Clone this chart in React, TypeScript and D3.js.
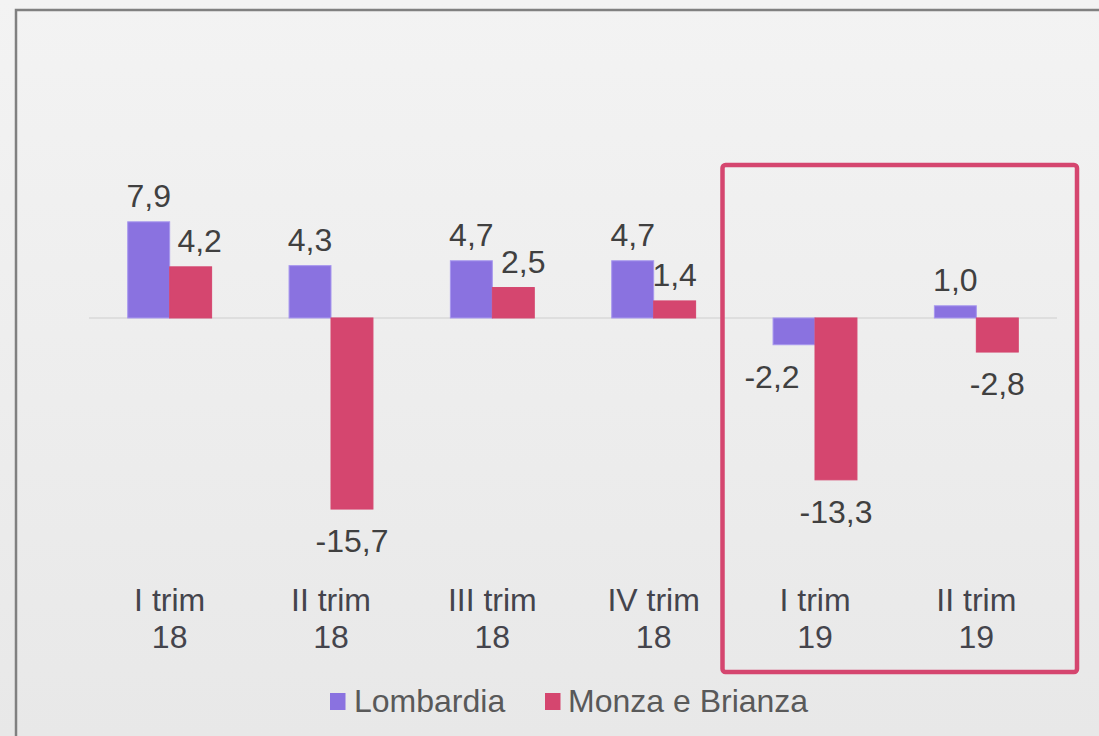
import React from "react";
import * as d3 from "d3";

const categories = [["I trim", "18"], ["II trim", "18"], ["III trim", "18"], ["IV trim", "18"], ["I trim", "19"], ["II trim", "19"]];
const seriesNames = ["Lombardia", "Monza e Brianza"];
const lombardia = [7.9, 4.3, 4.7, 4.7, -2.2, 1.0];
const monza = [4.2, -15.7, 2.5, 1.4, -13.3, -2.8];
const colors = ["#8a72e0", "#d5466f"];
const strokeColors = ["#a797ee", "#d5466f"];
// small horizontal label nudges (px) to mimic reference label placement
const nudgeL = [0, 0, 0, 0, -22, 0];
const nudgeM = [9, 0, 10, 0, 0, 0];

const W = 1099, H = 736;
const FONT = "'Liberation Sans', Arial, sans-serif";
const FS = 32;

export default function App() {
  const x = d3.scaleBand<number>().domain(d3.range(categories.length)).range([89, 1057]).paddingInner(0.48).paddingOuter(0.24);
  const xs = d3.scaleBand<number>().domain([0, 1]).range([0, x.bandwidth()]);
  const y = d3.scaleLinear().domain([-16, 8]).range([512.7, 220.6]);
  const y0 = y(0);
  const series = [lombardia, monza];
  const nudges = [nudgeL, nudgeM];
  const fmt = (v: number) => d3.format(".1f")(v).replace(".", ",").replace("−", "-");

  return (
    <svg width={W} height={H} style={{ position: "absolute", left: 0, top: 0 }} fontFamily={FONT}>
      <defs>
        <linearGradient id="bg" x1="0" y1="0" x2="0" y2="1">
          <stop offset="0" stopColor="#f3f3f3" />
          <stop offset="1" stopColor="#e8e8e8" />
        </linearGradient>
      </defs>
      <rect x={0} y={0} width={W} height={H} fill="url(#bg)" />
      <rect x={16} y={10} width={W + 20} height={H + 20} fill="none" stroke="#808080" strokeWidth={2.5} />
      <line x1={89} x2={1057} y1={y0} y2={y0} stroke="#d9d9d9" strokeWidth={1.5} />
      {series.map((vals, si) =>
        vals.map((v, i) => {
          const bx = (x(i) as number) + (xs(si) as number);
          const bw = xs.bandwidth();
          const top = Math.min(y(v), y0);
          const h = Math.abs(y(v) - y0);
          const cx = bx + bw / 2 + nudges[si][i];
          const ly = v >= 0 ? y(v) - 15 : y(v) + 43;
          return (
            <g key={`${si}-${i}`}>
              <rect x={bx} y={top} width={bw} height={h} fill={colors[si]} stroke={strokeColors[si]} strokeWidth={1} />
              <text x={cx} y={ly} textAnchor="middle" fontSize={FS} fill="#404040">{fmt(v)}</text>
            </g>
          );
        })
      )}
      {categories.map((c, i) => {
        const cx = (x(i) as number) + x.bandwidth() / 2;
        return (
          <text key={i} x={cx} textAnchor="middle" fontSize={FS} fill="#44444c">
            <tspan x={cx} y={611}>{c[0]}</tspan>
            <tspan x={cx} y={647.5}>{c[1]}</tspan>
          </text>
        );
      })}
      <rect x={722.5} y={165} width={354.5} height={507} rx={3} fill="none" stroke="#d5466f" strokeWidth={4.5} />
      <g>
        <rect x={330} y={693} width={15.5} height={17} fill={colors[0]} />
        <text x={354} y={712} fontSize={FS} fill="#595959">{seriesNames[0]}</text>
        <rect x={545} y={693} width={15.5} height={17} fill={colors[1]} />
        <text x={568} y={712} fontSize={FS} fill="#595959">{seriesNames[1]}</text>
      </g>
    </svg>
  );
}
